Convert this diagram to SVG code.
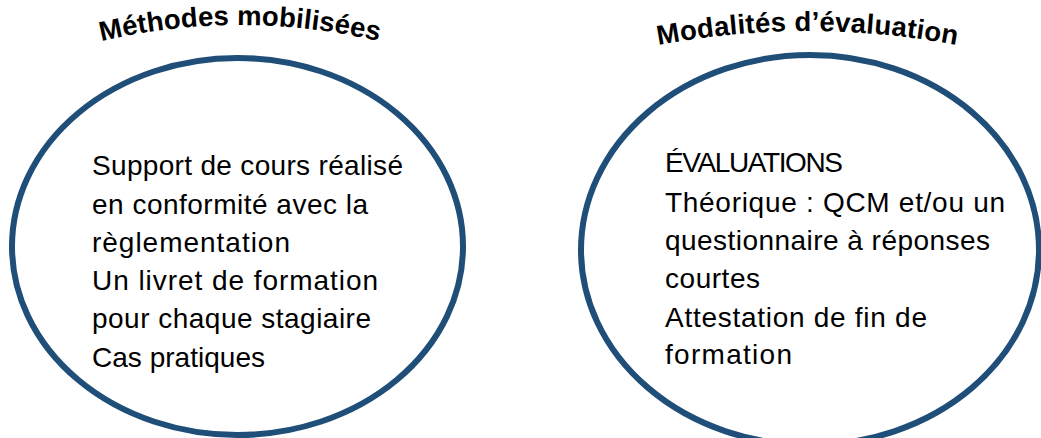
<svg xmlns="http://www.w3.org/2000/svg" width="1041" height="438" viewBox="0 0 1041 438">
  <style>
    .oval { fill: #ffffff; stroke: #1f4e79; stroke-width: 6; }
    .title { font-family: "Liberation Sans", Arial, sans-serif; font-weight: bold; font-size: 27.5px; fill: #000000; }
    .body { font-family: "Liberation Sans", Arial, sans-serif; font-size: 28px; fill: #000000; }
  </style>
  <defs>
    <path id="arc-left" d="M 70,49.6 A 600,600 0 0 1 410,49.6"/>
    <path id="arc-right" d="M 630,51 A 800,800 0 0 1 985,51"/>
  </defs>
  <rect width="1041" height="438" fill="#ffffff"/>

  <g id="methodes">
    <ellipse class="oval" cx="237.5" cy="246.5" rx="225.5" ry="188.5"/>
    <text class="title"><textPath href="#arc-left" startOffset="50%" text-anchor="middle" textLength="280">Méthodes mobilisées</textPath></text>
    <text class="body">
      <tspan x="92" y="175" textLength="311">Support de cours réalisé</tspan>
      <tspan x="92" y="214" textLength="276">en conformité avec la</tspan>
      <tspan x="92" y="252" textLength="198">règlementation</tspan>
      <tspan x="92" y="290" textLength="286">Un livret de formation</tspan>
      <tspan x="92" y="328" textLength="279">pour chaque stagiaire</tspan>
      <tspan x="92" y="367" textLength="173">Cas pratiques</tspan>
    </text>
  </g>

  <g id="modalites">
    <ellipse class="oval" cx="810" cy="250" rx="229" ry="195"/>
    <text class="title"><textPath href="#arc-right" startOffset="50%" text-anchor="middle" textLength="300">Modalités d’évaluation</textPath></text>
    <text class="body">
      <tspan x="665" y="172" textLength="178">ÉVALUATIONS</tspan>
      <tspan x="665" y="212" textLength="340">Théorique : QCM et/ou un</tspan>
      <tspan x="665" y="250" textLength="325">questionnaire à réponses</tspan>
      <tspan x="665" y="288" textLength="95">courtes</tspan>
      <tspan x="665" y="327" textLength="262">Attestation de fin de</tspan>
      <tspan x="665" y="364" textLength="127">formation</tspan>
    </text>
  </g>

  <g id="connectors"/>
</svg>
